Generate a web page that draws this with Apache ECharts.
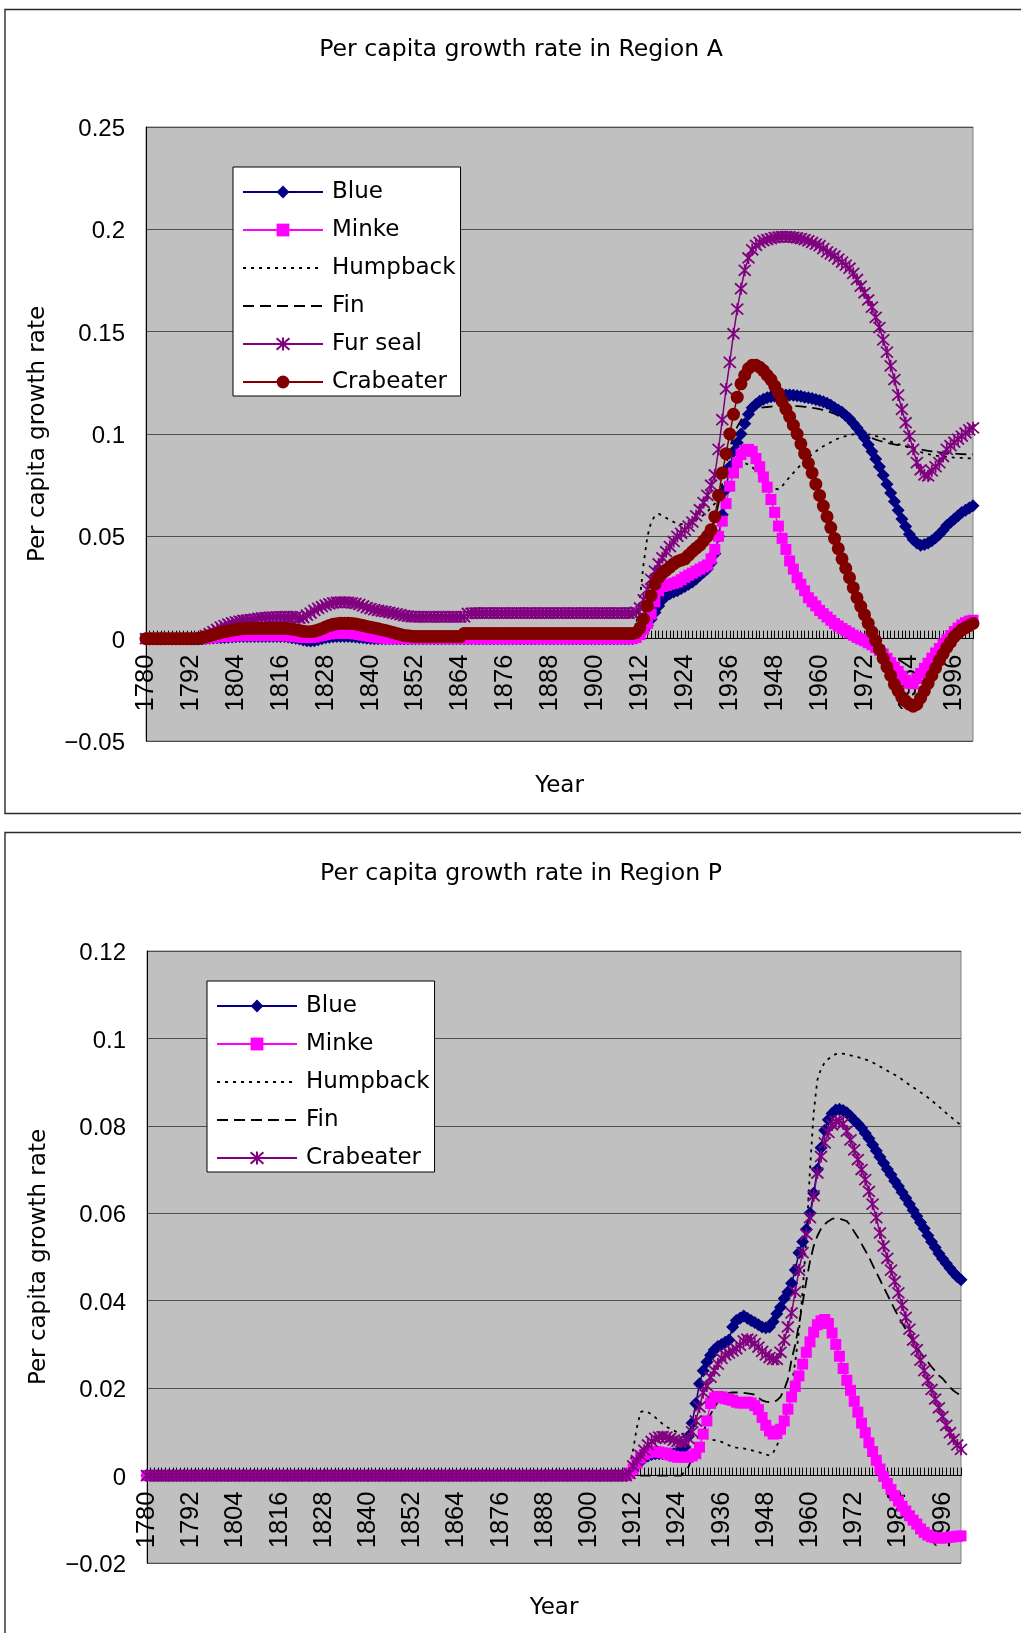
<!DOCTYPE html>
<html>
<head>
<meta charset="utf-8">
<script src="https://cdn.jsdelivr.net/npm/echarts/dist/echarts.min.js"></script>
<style>
  html, body { margin: 0; padding: 0; background: #ffffff; }
  #chart { width: 1021px; height: 1633px; }
</style>
</head>
<body>
<div id="chart"></div>
<script>
// Years on the category axis (one point per year)
const years = [
  1780,1781,1782,1783,1784,1785,1786,1787,1788,1789,
  1790,1791,1792,1793,1794,1795,1796,1797,1798,1799,
  1800,1801,1802,1803,1804,1805,1806,1807,1808,1809,
  1810,1811,1812,1813,1814,1815,1816,1817,1818,1819,
  1820,1821,1822,1823,1824,1825,1826,1827,1828,1829,
  1830,1831,1832,1833,1834,1835,1836,1837,1838,1839,
  1840,1841,1842,1843,1844,1845,1846,1847,1848,1849,
  1850,1851,1852,1853,1854,1855,1856,1857,1858,1859,
  1860,1861,1862,1863,1864,1865,1866,1867,1868,1869,
  1870,1871,1872,1873,1874,1875,1876,1877,1878,1879,
  1880,1881,1882,1883,1884,1885,1886,1887,1888,1889,
  1890,1891,1892,1893,1894,1895,1896,1897,1898,1899,
  1900,1901,1902,1903,1904,1905,1906,1907,1908,1909,
  1910,1911,1912,1913,1914,1915,1916,1917,1918,1919,
  1920,1921,1922,1923,1924,1925,1926,1927,1928,1929,
  1930,1931,1932,1933,1934,1935,1936,1937,1938,1939,
  1940,1941,1942,1943,1944,1945,1946,1947,1948,1949,
  1950,1951,1952,1953,1954,1955,1956,1957,1958,1959,
  1960,1961,1962,1963,1964,1965,1966,1967,1968,1969,
  1970,1971,1972,1973,1974,1975,1976,1977,1978,1979,
  1980,1981,1982,1983,1984,1985,1986,1987,1988,1989,
  1990,1991,1992,1993,1994,1995,1996,1997,1998,1999,
  2000,2001
];

// Labelled years on the horizontal axis
const xTickLabels = ['1780','1792','1804','1816','1828','1840','1852','1864','1876','1888','1900','1912','1924','1936','1948','1960','1972','1984','1996'];

// Vertical axis ticks
const yTicksA = [-0.05, 0, 0.05, 0.1, 0.15, 0.2, 0.25];
const yTicksP = [-0.02, 0, 0.02, 0.04, 0.06, 0.08, 0.1, 0.12];

// ---------- Region A ----------
const blueA = [
  0,0,0,0,0,0,0,0,0,0,
  0,0,0,0,0,0,0.0001,0.0002,0.0003,0.0004,
  0.0005,0.0006,0.0007,0.0008,0.0009,0.001,0.001,0.001,0.001,0.001,
  0.001,0.001,0.001,0.001,0.001,0.001,0.001,0.001,0.0008,0.0005,
  0.0002,-0.0002,-0.0006,-0.001,-0.0012,-0.001,-0.0005,0,0.0004,0.0007,
  0.0009,0.001,0.001,0.001,0.001,0.0009,0.0008,0.0006,0.0004,0.0002,
  0.0001,0,0,0,0,0,0,0,0,0,
  0,0,0,0,0,0,0,0,0,0,
  0,0,0,0,0,0,0,0,0,0,
  0,0,0,0,0,0,0,0,0,0,
  0,0,0,0,0,0,0,0,0,0,
  0,0,0,0,0,0,0,0,0,0,
  0,0,0,0,0,0,0,0,0,0,
  0,0.0005,0.002,0.004,0.0064,0.0095,0.0128,0.016,0.019,0.0208,
  0.022,0.0228,0.0234,0.0245,0.0255,0.0266,0.0277,0.0292,0.031,0.0325,
  0.034,0.037,0.0415,0.05,0.0606,0.073,0.084,0.0915,0.0957,0.1,
  0.105,0.1096,0.1128,0.1145,0.116,0.117,0.1177,0.1182,0.1185,0.1188,
  0.119,0.119,0.119,0.1189,0.1187,0.1184,0.118,0.1177,0.1174,0.1169,
  0.1164,0.1157,0.115,0.114,0.1128,0.1117,0.1106,0.109,0.1074,0.1053,
  0.103,0.1006,0.098,0.0948,0.0915,0.0878,0.084,0.0798,0.0755,0.0712,
  0.067,0.0628,0.0585,0.0548,0.051,0.0485,0.0468,0.0457,0.046,0.0468,
  0.0479,0.0493,0.051,0.053,0.0553,0.0569,0.0585,0.0601,0.0617,0.0628,
  0.0638,0.065
];
const minkeA = [
  0,0,0,0,0,0,0,0,0,0,
  0,0,0,0,0,0,0.0002,0.0004,0.0006,0.0008,
  0.001,0.0011,0.0012,0.0013,0.0014,0.0015,0.0015,0.0015,0.0015,0.0015,
  0.0015,0.0015,0.0015,0.0015,0.0015,0.0015,0.0015,0.0015,0.0014,0.0012,
  0.001,0.0008,0.0006,0.0005,0.0006,0.0008,0.0012,0.0016,0.002,0.0023,
  0.0025,0.0026,0.0027,0.0027,0.0026,0.0025,0.0023,0.002,0.0017,0.0014,
  0.0011,0.0008,0.0005,0.0003,0.0001,0,0,0,0,0,
  0,0,0,0,0,0,0,0,0,0,
  0,0,0,0,0,0,0,0,0,0,
  0,0,0,0,0,0,0,0,0,0,
  0,0,0,0,0,0,0,0,0,0,
  0,0,0,0,0,0,0,0,0,0,
  0,0,0,0,0,0,0,0,0,0,
  0,0.0006,0.002,0.0045,0.0074,0.012,0.018,0.0234,0.0255,0.026,
  0.0266,0.0271,0.0277,0.0288,0.03,0.031,0.032,0.033,0.034,0.035,
  0.036,0.039,0.0436,0.05,0.0574,0.066,0.0745,0.081,0.086,0.09,
  0.092,0.0925,0.0915,0.088,0.084,0.079,0.074,0.068,0.0617,0.055,
  0.049,0.0436,0.038,0.034,0.0298,0.0266,0.0234,0.02,0.018,0.016,
  0.0138,0.0122,0.0106,0.009,0.0074,0.0062,0.005,0.0039,0.0028,0.0017,
  0.0006,-0.0002,-0.001,-0.002,-0.003,-0.0043,-0.0057,-0.0075,-0.0096,-0.0117,
  -0.0138,-0.016,-0.0183,-0.0203,-0.0218,-0.022,-0.0195,-0.017,-0.0145,-0.012,
  -0.0095,-0.007,-0.0048,-0.0025,-0.0005,0.0015,0.0035,0.0052,0.0067,0.0078,
  0.0086,0.009
];
const humpbackA = [
  0,0,0,0,0,0,0,0,0,0,
  0,0,0,0,0,0,0,0,0,0,
  0,0,0,0,0,0,0,0,0,0,
  0,0,0,0,0,0,0,0,0,0,
  0,0,0,0,0,0,0,0,0,0,
  0,0,0,0,0,0,0,0,0,0,
  0,0,0,0,0,0,0,0,0,0,
  0,0,0,0,0,0,0,0,0,0,
  0,0,0,0,0,0,0,0,0,0,
  0,0,0,0,0,0,0,0,0,0,
  0,0,0,0,0,0,0,0,0,0,
  0,0,0,0,0,0,0,0,0,0,
  0,0,0,0,0,0,0,0,0,0,
  0,0.007,0.02,0.037,0.05,0.057,0.06,0.061,0.06,0.059,
  0.058,0.057,0.056,0.056,0.056,0.0565,0.057,0.058,0.059,0.0605,
  0.062,0.064,0.066,0.069,0.073,0.077,0.08,0.083,0.085,0.086,
  0.0858,0.085,0.0838,0.082,0.08,0.078,0.076,0.0745,0.0732,0.073,
  0.0745,0.0768,0.079,0.081,0.083,0.085,0.087,0.0885,0.09,0.0915,
  0.093,0.094,0.095,0.096,0.097,0.0978,0.0985,0.099,0.0995,0.0998,
  0.1,0.1,0.1,0.0998,0.0995,0.099,0.0985,0.0978,0.097,0.0963,
  0.0956,0.095,0.0945,0.094,0.0932,0.0925,0.0918,0.0912,0.0906,0.0902,
  0.0898,0.0895,0.0892,0.089,0.0888,0.0886,0.0885,0.0884,0.0883,0.0882,
  0.0881,0.088
];
const finA = [
  0,0,0,0,0,0,0,0,0,0,
  0,0,0,0,0,0,0,0,0,0,
  0,0,0,0,0,0,0,0,0,0,
  0,0,0,0,0,0,0,0,0,0,
  0,0,0,0,0,0,0,0,0,0,
  0,0,0,0,0,0,0,0,0,0,
  0,0,0,0,0,0,0,0,0,0,
  0,0,0,0,0,0,0,0,0,0,
  0,0,0,0,0,0,0,0,0,0,
  0,0,0,0,0,0,0,0,0,0,
  0,0,0,0,0,0,0,0,0,0,
  0,0,0,0,0,0,0,0,0,0,
  0,0,0,0,0,0,0,0,0,0,
  0,0.001,0.004,0.009,0.015,0.02,0.025,0.028,0.031,0.033,
  0.034,0.0355,0.0368,0.0376,0.0383,0.04,0.042,0.0435,0.045,0.047,
  0.049,0.052,0.058,0.066,0.076,0.085,0.093,0.099,0.1035,0.1068,
  0.109,0.1105,0.1115,0.1122,0.1127,0.113,0.1132,0.1134,0.1135,0.1137,
  0.1138,0.1138,0.1138,0.1137,0.1136,0.1135,0.1133,0.1131,0.1128,0.1125,
  0.1121,0.1117,0.1112,0.1106,0.1099,0.109,0.108,0.1068,0.1055,0.104,
  0.1024,0.101,0.0998,0.0988,0.098,0.0973,0.0967,0.0962,0.0957,0.0953,
  0.0949,0.0946,0.0943,0.094,0.0937,0.0933,0.0929,0.0925,0.0921,0.0918,
  0.0915,0.0912,0.091,0.0908,0.0906,0.0905,0.0904,0.0903,0.0902,0.0901,
  0.09,0.09
];
const furSealA = [
  0,0,0,0,0,0,0,0,0,0,
  0,0,0,0,0,0.0005,0.0015,0.0025,0.0035,0.0045,
  0.0057,0.0064,0.0071,0.0077,0.0082,0.0086,0.0089,0.0091,0.0093,0.0096,
  0.0099,0.0101,0.0103,0.0104,0.0105,0.0106,0.0107,0.0107,0.0107,0.0107,
  0.0107,0.01,0.0103,0.0115,0.0125,0.0138,0.0148,0.0156,0.0164,0.017,
  0.0175,0.0177,0.0178,0.0178,0.0177,0.0175,0.0172,0.0167,0.016,0.0152,
  0.0147,0.0142,0.0138,0.0135,0.0132,0.0129,0.0125,0.0121,0.0117,0.0113,
  0.011,0.0108,0.0107,0.0107,0.0107,0.0107,0.0107,0.0107,0.0107,0.0107,
  0.0107,0.0107,0.0107,0.0107,0.0107,0.0107,0.0123,0.0124,0.0125,0.0125,
  0.0125,0.0125,0.0125,0.0125,0.0125,0.0125,0.0125,0.0125,0.0125,0.0125,
  0.0125,0.0125,0.0125,0.0125,0.0125,0.0125,0.0125,0.0125,0.0125,0.0125,
  0.0125,0.0125,0.0125,0.0125,0.0125,0.0125,0.0125,0.0125,0.0125,0.0125,
  0.0125,0.0125,0.0125,0.0125,0.0125,0.0125,0.0125,0.0125,0.0125,0.0125,
  0.0125,0.013,0.015,0.019,0.024,0.029,0.033,0.0365,0.0395,0.0425,
  0.045,0.0475,0.05,0.0515,0.053,0.055,0.057,0.06,0.063,0.0665,
  0.07,0.075,0.08,0.0925,0.107,0.122,0.135,0.149,0.161,0.171,
  0.18,0.186,0.19,0.1922,0.1936,0.1945,0.195,0.1955,0.196,0.1962,
  0.1964,0.1964,0.1963,0.1961,0.1958,0.1955,0.195,0.1944,0.1936,0.1928,
  0.192,0.1906,0.189,0.188,0.187,0.1855,0.184,0.1825,0.181,0.1785,
  0.1755,0.1722,0.169,0.1655,0.162,0.157,0.152,0.146,0.14,0.1333,
  0.1266,0.119,0.112,0.1055,0.099,0.0925,0.086,0.0825,0.08,0.0795,
  0.082,0.084,0.086,0.089,0.0925,0.0943,0.096,0.0975,0.099,0.1005,
  0.102,0.103
];
const crabeaterA = [
  0,0,0,0,0,0,0,0,0,0,
  0,0,0,0,0,0.0005,0.001,0.0015,0.002,0.0025,
  0.003,0.0034,0.0038,0.0041,0.0044,0.0047,0.0049,0.005,0.005,0.005,
  0.005,0.005,0.005,0.005,0.005,0.005,0.005,0.005,0.0049,0.0047,
  0.0044,0.004,0.0036,0.0034,0.0034,0.0037,0.0042,0.0049,0.0057,0.0064,
  0.007,0.0073,0.0075,0.0075,0.0075,0.0074,0.0072,0.0068,0.0064,0.006,
  0.0056,0.0052,0.0048,0.0044,0.004,0.0035,0.003,0.0025,0.002,0.0016,
  0.0014,0.0012,0.001,0.001,0.001,0.001,0.001,0.001,0.001,0.001,
  0.001,0.001,0.001,0.001,0.001,0.0025,0.0025,0.0025,0.0025,0.0025,
  0.0025,0.0025,0.0025,0.0025,0.0025,0.0025,0.0025,0.0025,0.0025,0.0025,
  0.0025,0.0025,0.0025,0.0025,0.0025,0.0025,0.0025,0.0025,0.0025,0.0025,
  0.0025,0.0025,0.0025,0.0025,0.0025,0.0025,0.0025,0.0025,0.0025,0.0025,
  0.0025,0.0025,0.0025,0.0025,0.0025,0.0025,0.0025,0.0025,0.0025,0.0025,
  0.0025,0.003,0.0053,0.0096,0.016,0.021,0.0266,0.0298,0.032,0.0335,
  0.035,0.0365,0.0377,0.0384,0.039,0.0408,0.0426,0.0442,0.0457,0.0478,
  0.05,0.0532,0.0596,0.07,0.081,0.0904,0.1,0.1096,0.118,0.1245,
  0.1287,0.132,0.1336,0.1336,0.1326,0.131,0.1287,0.1266,0.1234,0.12,
  0.116,0.1122,0.1085,0.1043,0.1,0.0952,0.0904,0.0857,0.081,0.0755,
  0.07,0.0648,0.0596,0.0543,0.049,0.044,0.039,0.0344,0.0298,0.0249,
  0.02,0.0158,0.0117,0.0075,0.0032,-0.001,-0.0053,-0.0096,-0.0138,-0.018,
  -0.0223,-0.0255,-0.0287,-0.0305,-0.032,-0.033,-0.032,-0.029,-0.0255,-0.0218,
  -0.018,-0.0143,-0.0106,-0.0075,-0.0043,-0.0017,0.001,0.0027,0.0043,0.0054,
  0.0064,0.0074
];

// ---------- Region P ----------
const blueP = [
  0,0,0,0,0,0,0,0,0,0,
  0,0,0,0,0,0,0,0,0,0,
  0,0,0,0,0,0,0,0,0,0,
  0,0,0,0,0,0,0,0,0,0,
  0,0,0,0,0,0,0,0,0,0,
  0,0,0,0,0,0,0,0,0,0,
  0,0,0,0,0,0,0,0,0,0,
  0,0,0,0,0,0,0,0,0,0,
  0,0,0,0,0,0,0,0,0,0,
  0,0,0,0,0,0,0,0,0,0,
  0,0,0,0,0,0,0,0,0,0,
  0,0,0,0,0,0,0,0,0,0,
  0,0,0,0,0,0,0,0,0,0,
  0,0.0005,0.0015,0.0025,0.0033,0.004,0.0045,0.0048,0.005,0.005,
  0.005,0.005,0.005,0.005,0.0052,0.0056,0.0065,0.009,0.012,0.0165,
  0.021,0.024,0.026,0.0275,0.0288,0.0295,0.03,0.0305,0.031,0.034,
  0.0355,0.036,0.0365,0.036,0.0355,0.035,0.0345,0.034,0.0338,0.034,
  0.0352,0.037,0.0385,0.0405,0.042,0.044,0.047,0.051,0.0535,0.0563,
  0.06,0.0646,0.07,0.075,0.079,0.0814,0.0828,0.0836,0.0838,0.0835,
  0.083,0.0822,0.0813,0.0805,0.0795,0.0783,0.0771,0.0757,0.0743,0.0729,
  0.0715,0.0701,0.0688,0.0674,0.0662,0.0648,0.0635,0.0621,0.0607,0.0593,
  0.0579,0.0565,0.0549,0.0535,0.0522,0.0508,0.0496,0.0485,0.0474,0.0464,
  0.0455,0.0448
];
const minkeP = [
  0,0,0,0,0,0,0,0,0,0,
  0,0,0,0,0,0,0,0,0,0,
  0,0,0,0,0,0,0,0,0,0,
  0,0,0,0,0,0,0,0,0,0,
  0,0,0,0,0,0,0,0,0,0,
  0,0,0,0,0,0,0,0,0,0,
  0,0,0,0,0,0,0,0,0,0,
  0,0,0,0,0,0,0,0,0,0,
  0,0,0,0,0,0,0,0,0,0,
  0,0,0,0,0,0,0,0,0,0,
  0,0,0,0,0,0,0,0,0,0,
  0,0,0,0,0,0,0,0,0,0,
  0,0,0,0,0,0,0,0,0,0,
  0,0.0005,0.0015,0.0028,0.004,0.0048,0.0052,0.0054,0.0055,0.0054,
  0.0052,0.005,0.0047,0.0044,0.0042,0.0042,0.0042,0.0042,0.0045,0.005,
  0.0065,0.0095,0.0125,0.0165,0.0178,0.0181,0.018,0.0176,0.0174,0.0172,
  0.0168,0.0166,0.0166,0.0168,0.0166,0.016,0.0151,0.0133,0.0115,0.0102,
  0.0095,0.0096,0.0106,0.0125,0.0152,0.018,0.0204,0.0228,0.0255,0.0282,
  0.0306,0.0328,0.0345,0.0354,0.0357,0.0348,0.0326,0.03,0.0273,0.0245,
  0.0218,0.0195,0.017,0.0145,0.012,0.0098,0.0075,0.0055,0.0035,0.0015,
  -0.0002,-0.0018,-0.0032,-0.0046,-0.0058,-0.007,-0.0081,-0.0092,-0.0102,-0.0111,
  -0.0122,-0.013,-0.0136,-0.014,-0.0142,-0.0143,-0.0143,-0.0142,-0.0141,-0.014,
  -0.0139,-0.0138
];
const humpbackP = [
  0,0,0,0,0,0,0,0,0,0,
  0,0,0,0,0,0,0,0,0,0,
  0,0,0,0,0,0,0,0,0,0,
  0,0,0,0,0,0,0,0,0,0,
  0,0,0,0,0,0,0,0,0,0,
  0,0,0,0,0,0,0,0,0,0,
  0,0,0,0,0,0,0,0,0,0,
  0,0,0,0,0,0,0,0,0,0,
  0,0,0,0,0,0,0,0,0,0,
  0,0,0,0,0,0,0,0,0,0,
  0,0,0,0,0,0,0,0,0,0,
  0,0,0,0,0,0,0,0,0,0,
  0,0,0,0,0,0,0,0,0,0,
  0,0.002,0.006,0.011,0.0145,0.0148,0.0145,0.014,0.0133,0.0125,
  0.0118,0.0112,0.0107,0.0103,0.0099,0.0096,0.0093,0.009,0.0088,0.0087,
  0.0086,0.0086,0.0085,0.0083,0.0081,0.0079,0.0077,0.0073,0.0069,0.0066,
  0.0064,0.0063,0.0062,0.006,0.0058,0.0056,0.0054,0.0051,0.0048,0.0046,
  0.0052,0.0068,0.009,0.012,0.0158,0.0205,0.026,0.033,0.042,0.054,
  0.07,0.083,0.0905,0.093,0.0945,0.0953,0.096,0.0964,0.0966,0.0965,
  0.0963,0.0961,0.0959,0.0957,0.0955,0.0952,0.0949,0.0945,0.0941,0.0936,
  0.0931,0.0926,0.0921,0.0917,0.0912,0.0906,0.09,0.0894,0.0888,0.0883,
  0.0877,0.0871,0.0865,0.0858,0.0851,0.0844,0.0837,0.0829,0.0822,0.0815,
  0.0808,0.0802
];
const finP = [
  0,0,0,0,0,0,0,0,0,0,
  0,0,0,0,0,0,0,0,0,0,
  0,0,0,0,0,0,0,0,0,0,
  0,0,0,0,0,0,0,0,0,0,
  0,0,0,0,0,0,0,0,0,0,
  0,0,0,0,0,0,0,0,0,0,
  0,0,0,0,0,0,0,0,0,0,
  0,0,0,0,0,0,0,0,0,0,
  0,0,0,0,0,0,0,0,0,0,
  0,0,0,0,0,0,0,0,0,0,
  0,0,0,0,0,0,0,0,0,0,
  0,0,0,0,0,0,0,0,0,0,
  0,0,0,0,0,0,0,0,0,0,
  0,0,0,0,0,0,0,0,0,0,
  0,0,0,0,0,0,0.001,0.002,0.004,0.006,
  0.008,0.01,0.012,0.014,0.0155,0.0168,0.0178,0.0185,0.0189,0.019,
  0.019,0.019,0.0189,0.0188,0.0187,0.0185,0.0178,0.0172,0.0169,0.0168,
  0.0168,0.0172,0.018,0.0197,0.022,0.0265,0.03,0.0345,0.0395,0.0445,
  0.049,0.0525,0.0548,0.0565,0.0575,0.0582,0.0587,0.0589,0.0588,0.0585,
  0.0582,0.0572,0.0558,0.0545,0.053,0.0515,0.05,0.0482,0.0465,0.0448,
  0.0431,0.0414,0.0397,0.038,0.0364,0.0349,0.0335,0.0321,0.0307,0.0294,
  0.0281,0.027,0.026,0.0249,0.0239,0.0229,0.0222,0.0212,0.0202,0.0194,
  0.0188,0.0183
];
const crabeaterP = [
  0,0,0,0,0,0,0,0,0,0,
  0,0,0,0,0,0,0,0,0,0,
  0,0,0,0,0,0,0,0,0,0,
  0,0,0,0,0,0,0,0,0,0,
  0,0,0,0,0,0,0,0,0,0,
  0,0,0,0,0,0,0,0,0,0,
  0,0,0,0,0,0,0,0,0,0,
  0,0,0,0,0,0,0,0,0,0,
  0,0,0,0,0,0,0,0,0,0,
  0,0,0,0,0,0,0,0,0,0,
  0,0,0,0,0,0,0,0,0,0,
  0,0,0,0,0,0,0,0,0,0,
  0,0,0,0,0,0,0,0,0,0,
  0,0.0005,0.0022,0.0034,0.0046,0.0058,0.007,0.0078,0.0085,0.0088,
  0.0089,0.0088,0.0085,0.0081,0.0078,0.0077,0.0077,0.0085,0.01,0.0125,
  0.0157,0.019,0.0205,0.0225,0.024,0.0255,0.0268,0.0276,0.028,0.0285,
  0.029,0.0298,0.0308,0.0312,0.031,0.0302,0.0294,0.0284,0.0276,0.027,
  0.0266,0.0266,0.0282,0.031,0.034,0.0372,0.042,0.047,0.051,0.0552,
  0.059,0.064,0.0692,0.073,0.0761,0.0785,0.0802,0.081,0.0811,0.0805,
  0.0788,0.0768,0.0745,0.0723,0.07,0.0677,0.065,0.0621,0.059,0.0555,
  0.0525,0.0497,0.047,0.0444,0.0418,0.039,0.0362,0.0335,0.031,0.0288,
  0.0264,0.024,0.0218,0.0197,0.0175,0.0155,0.0135,0.0115,0.0098,0.0083,
  0.007,0.006
];

// ---------- drawing ----------
const FONT_SANS = 'DejaVu Sans';
const FONT_NUM = 'Liberation Sans';
const NAVY = '#000080', MAGENTA = '#ff00ff', PURPLE = '#800080', MAROON = '#800000', INK = '#000000';
const ASTERISK = 'path://M0,0L10,10M10,0L0,10M5,-0.5L5,10.5';

const yearLabels = years.map(String);

// plot rectangles of the two panels
const gridA = { left: 146, top: 127, width: 827, height: 614 };
const gridP = { left: 147, top: 951, width: 814, height: 612 };

// distance from the plot bottom up to the zero line, so the year axis sits on y = 0
function zeroOffset(g, ticks) {
  const lo = ticks[0], hi = ticks[ticks.length - 1];
  return -g.height * (0 - lo) / (hi - lo);
}

function fmtTick(v) {
  const n = parseFloat(Number(v).toFixed(4));
  if (n === 0) return '0';
  return (n < 0 ? '\u2212' : '') + String(Math.abs(n));
}

function lineSeries(name, data, idx, color, symbol, size, extra) {
  const s = {
    name: name, type: 'line', data: data,
    xAxisIndex: idx, yAxisIndex: idx,
    symbol: symbol, symbolSize: size, showSymbol: symbol !== 'none', showAllSymbol: true,
    color: color,
    lineStyle: { color: color, width: 1.5 },
    itemStyle: { color: color, borderWidth: 0 },
    emphasis: { disabled: true },
    animation: false
  };
  return Object.assign(s, extra || {});
}

function starStyle(color) {
  return { itemStyle: { color: color, borderColor: color, borderWidth: 1.8 } };
}

function xAxisFor(idx, gap, offset) {
  return {
    type: 'category', gridIndex: idx, data: yearLabels, boundaryGap: false,
    position: 'bottom', offset: offset,
    axisLine: { show: true, onZero: false, lineStyle: { color: INK, width: 1 } },
    axisTick: { show: true, inside: true, length: 8, interval: 0, lineStyle: { color: INK, width: 1 } },
    axisLabel: {
      rotate: 90, margin: 16, fontFamily: FONT_NUM, fontSize: 25.5, color: INK,
      interval: function (i, v) { return xTickLabels.indexOf(v) >= 0; },
      hideOverlap: false
    },
    splitLine: { show: false },
    name: 'Year', nameLocation: 'middle', nameGap: gap,
    nameTextStyle: { fontFamily: FONT_SANS, fontSize: 23, color: INK }
  };
}

function yAxisFor(idx, ticks) {
  return {
    type: 'value', gridIndex: idx,
    min: ticks[0], max: ticks[ticks.length - 1], interval: ticks[1] - ticks[0],
    axisLine: { show: true, lineStyle: { color: INK, width: 1 } },
    axisTick: { show: false },
    axisLabel: { margin: 21, fontFamily: FONT_NUM, fontSize: 24, color: INK, formatter: fmtTick,
      verticalAlign: 'top', lineHeight: 5 },
    splitLine: { show: true, lineStyle: { color: '#505050', width: 1.2 } },
    name: 'Per capita growth rate', nameLocation: 'middle', nameRotate: 90, nameGap: 96,
    nameTextStyle: { fontFamily: FONT_SANS, fontSize: 23, color: INK }
  };
}

// legend entries; the plain dotted / dashed entries carry no marker
function legendItems(names, plain) {
  return names.map(function (n) {
    return plain.indexOf(n) >= 0 ? { name: n, itemStyle: { opacity: 0 } } : { name: n };
  });
}

function legendFor(left, top, items) {
  return {
    show: true, orient: 'vertical', left: left, top: top,
    data: items,
    backgroundColor: '#ffffff', borderColor: INK, borderWidth: 1, borderRadius: 0,
    padding: [13, 5, 2, 9],
    itemWidth: 80, itemHeight: 16, itemGap: 14,
    textStyle: { fontFamily: FONT_SANS, fontSize: 23, color: INK, lineHeight: 24, padding: [0, 0, 0, 4] },
    formatter: function (n) { return n.replace(' (P)', ''); },
    selectedMode: false
  };
}

const titleStyle = { fontFamily: FONT_SANS, fontSize: 23.6, fontWeight: 'normal', color: INK };

const option = {
  backgroundColor: '#ffffff',
  animation: false,
  title: [
    { text: 'Per capita growth rate in Region A', left: 516, top: 33, textAlign: 'center', textStyle: titleStyle },
    { text: 'Per capita growth rate in Region P', left: 516, top: 857, textAlign: 'center', textStyle: titleStyle }
  ],
  graphic: [
    { type: 'rect', silent: true, z: -1, shape: { x: 5, y: 9.5, width: 1100, height: 804 },
      style: { fill: 'none', stroke: '#2a2a2a', lineWidth: 1.4 } },
    { type: 'rect', silent: true, z: -1, shape: { x: 5, y: 832.5, width: 1100, height: 900 },
      style: { fill: 'none', stroke: '#2a2a2a', lineWidth: 1.4 } }
  ],
  grid: [
    Object.assign({ show: true, backgroundColor: '#c0c0c0', borderColor: '#808080', borderWidth: 1,
      containLabel: false, outerBoundsMode: 'none' }, gridA),
    Object.assign({ show: true, backgroundColor: '#c0c0c0', borderColor: '#808080', borderWidth: 1,
      containLabel: false, outerBoundsMode: 'none' }, gridP)
  ],
  xAxis: [
    xAxisFor(0, 136, zeroOffset(gridA, yTicksA)),
    xAxisFor(1, 121, zeroOffset(gridP, yTicksP))
  ],
  yAxis: [yAxisFor(0, yTicksA), yAxisFor(1, yTicksP)],
  legend: [
    legendFor(233, 167, legendItems(['Blue', 'Minke', 'Humpback', 'Fin', 'Fur seal', 'Crabeater'], ['Humpback', 'Fin'])),
    legendFor(207, 981, legendItems(['Blue (P)', 'Minke (P)', 'Humpback (P)', 'Fin (P)', 'Crabeater (P)'], ['Humpback (P)', 'Fin (P)']))
  ],
  series: [
    lineSeries('Blue', blueA, 0, NAVY, 'diamond', 13),
    lineSeries('Minke', minkeA, 0, MAGENTA, 'rect', 11),
    lineSeries('Humpback', humpbackA, 0, INK, 'none', 0, { lineStyle: { color: INK, width: 1.8, type: [3, 5] } }),
    lineSeries('Fin', finA, 0, INK, 'none', 0, { lineStyle: { color: INK, width: 1.8, type: [11, 6] } }),
    lineSeries('Fur seal', furSealA, 0, PURPLE, ASTERISK, 12, starStyle(PURPLE)),
    lineSeries('Crabeater', crabeaterA, 0, MAROON, 'circle', 13),

    lineSeries('Blue (P)', blueP, 1, NAVY, 'diamond', 13),
    lineSeries('Minke (P)', minkeP, 1, MAGENTA, 'rect', 11),
    lineSeries('Humpback (P)', humpbackP, 1, INK, 'none', 0, { lineStyle: { color: INK, width: 1.8, type: [3, 5] } }),
    lineSeries('Fin (P)', finP, 1, INK, 'none', 0, { lineStyle: { color: INK, width: 1.8, type: [11, 6] } }),
    lineSeries('Crabeater (P)', crabeaterP, 1, PURPLE, ASTERISK, 12, starStyle(PURPLE))
  ]
};

const chart = echarts.init(document.getElementById('chart'), null, { renderer: 'canvas' });
chart.setOption(option);
</script>
</body>
</html>
